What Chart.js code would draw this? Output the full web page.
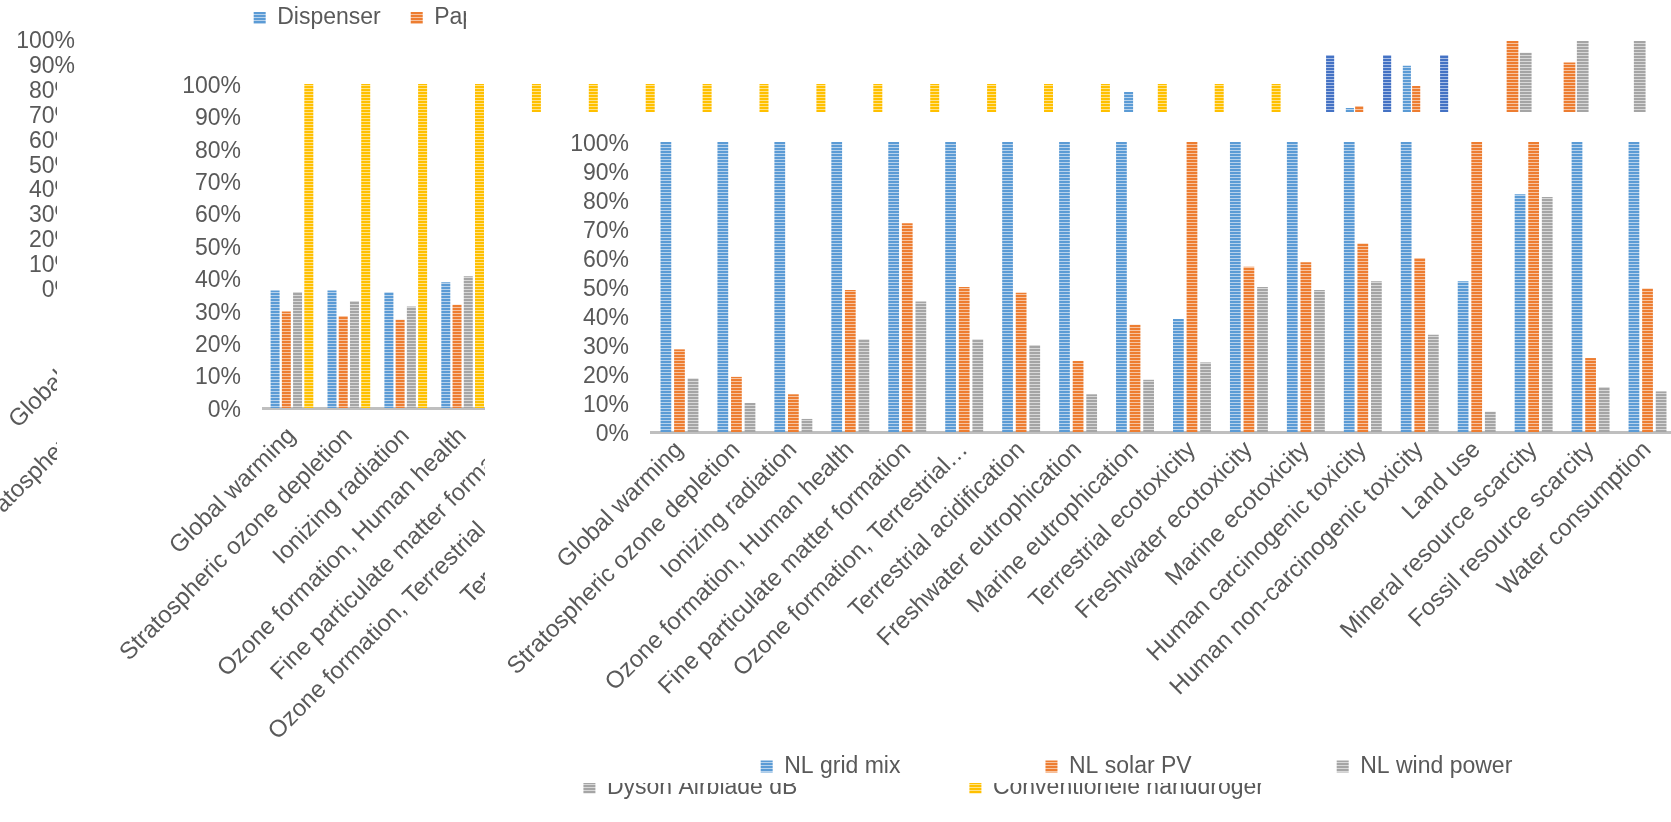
<!DOCTYPE html>
<html lang="en">
<head>
<meta charset="utf-8">
<title>Relative impact per category</title>
<script src="https://cdn.jsdelivr.net/npm/chart.js@4.4.1/dist/chart.umd.min.js"></script>
<style>
  html, body { margin: 0; padding: 0; background: #ffffff; }
  body { position: relative; width: 1671px; height: 822px; overflow: hidden; }
  .panel { position: absolute; }
  .panel canvas { display: block; }
  .blank { position: absolute; background: #ffffff; }
</style>
</head>
<body>
<div class="panel" style="left:0;top:-30px;z-index:1"><canvas id="handDryerOverview" width="1671" height="852"></canvas></div>
<div class="blank" style="left:466px;top:0;width:839px;height:75px;z-index:2"></div>
<div class="panel" style="left:1283px;top:41px;z-index:3"><canvas id="fiveSeriesStrip" width="171" height="249"></canvas></div>
<div class="panel" style="left:1484px;top:41px;z-index:3"><canvas id="energyStrip" width="171" height="249"></canvas></div>
<div class="panel" style="left:57px;top:5px;z-index:4"><canvas id="handDryerChart" width="1379" height="804"></canvas></div>
<div class="panel" style="left:485px;top:112px;z-index:5"><canvas id="electricityChart" width="1191" height="676"></canvas></div>
<script>
// ReCiPe midpoint impact categories
const impactCategories = [
  'Global warming', 'Stratospheric ozone depletion', 'Ionizing radiation',
  'Ozone formation, Human health', 'Fine particulate matter formation',
  'Ozone formation, Terrestrial ecosystems', 'Terrestrial acidification',
  'Freshwater eutrophication', 'Marine eutrophication', 'Terrestrial ecotoxicity',
  'Freshwater ecotoxicity', 'Marine ecotoxicity', 'Human carcinogenic toxicity',
  'Human non-carcinogenic toxicity', 'Land use', 'Mineral resource scarcity',
  'Fossil resource scarcity', 'Water consumption'
];
const percentTickLabels = ['0%', '10%', '20%', '30%', '40%', '50%', '60%', '70%', '80%', '90%', '100%'];

// Electricity sources, % of the highest score in each category
const nlGridMix   = [100, 100, 100, 100, 100, 100, 100, 100, 100, 39, 100, 100, 100, 100, 52, 82, 100, 100];
const nlSolarPV   = [28.5, 19, 13, 49, 72, 50, 48, 24.5, 37, 100, 57, 58.5, 65, 60, 100, 100, 25.5, 49.5];
const nlWindPower = [18.5, 10, 4.5, 32, 45, 32, 30, 13, 18, 24, 50, 49, 52, 33.5, 7, 81, 15.5, 14];

// Hand drying options, % of the highest score in each category
const dispenser         = [36.3, 36.3, 35.7, 38.8, null, null, null, null, null, null, null, null, null, null, null, 97.5, null, null];
const paperTowel        = [29.8, 28.4, 27.2, 31.9];
const dysonAirblade     = [35.8, 33.0, 31.3, 40.7];
const conventionalDryer = [100, 100, 100, 100, 100, 100, 100, 100, 100, 100, 100, 100, 100, 100, 100, 100, 100, 100];

// Narrow strips of two further panels (upper right)
const stripCategories = ['Mineral resource scarcity', 'Fossil resource scarcity', 'Water consumption'];
const stripLightBlue  = [null, 73.1, 90.1];
const stripOrange     = [null, 73.9, 81.9];
const stripDarkBlue   = [94.4, 94.4, 94.4];
const stripSolar      = [100, 91.4, null];
const stripWind       = [95.3, 100, 100];

Chart.defaults.font.family = '"Liberation Sans", Arial, Helvetica, sans-serif';
Chart.defaults.color = '#595959';

// Excel-like narrow horizontal stripe fill
function stripes(base, light) {
  const tile = document.createElement('canvas');
  tile.width = 4; tile.height = 3;
  const g = tile.getContext('2d');
  g.fillStyle = base; g.fillRect(0, 0, 4, 3);
  g.fillStyle = light; g.fillRect(0, 2, 4, 1);
  return g.createPattern(tile, 'repeat');
}
const fill = {
  blue:   stripes('#5B9BD5', '#B7D2EC'),
  orange: stripes('#ED7D31', '#F7C4A1'),
  gray:   stripes('#A5A5A5', '#D8D8D8'),
  yellow: stripes('#FFC000', '#FFE38A'),
  navy:   stripes('#4472C4', '#A9BEE6')
};

// white panel behind a chart, limited to the panel's own rectangle
function paperBackground(x, y, width, height) {
  return {
    id: 'paperBackground',
    beforeDraw(chart) {
      const ctx = chart.ctx;
      ctx.save();
      ctx.fillStyle = '#ffffff';
      ctx.fillRect(x, y, width, height);
      ctx.restore();
    }
  };
}

function shortLabel(text) {
  if (text.length <= 34) return text;
  const cut = text.slice(0, 34);
  return cut.slice(0, cut.lastIndexOf(' ')) + '\u2026';
}

// tick labels may run outside the axis box
function unclipLabels(scale) {
  scale._computeLabelArea = () => undefined;
}

function valueAxis(width, padding, topPad) {
  return {
    min: 0, max: 100,
    grid: { display: false, drawTicks: false },
    border: { display: false },
    ticks: {
      stepSize: 10, autoSkip: false, padding: padding, labelOffset: 2.5,
      color: '#595959', font: { size: 23 },
      callback: (v, i) => percentTickLabels[i]
    },
    afterFit(scale) {
      scale.width = width; scale.paddingTop = topPad || 0; scale.paddingBottom = 0;
      unclipLabels(scale);
    }
  };
}

function categoryAxis(height, padding, rightPad, formatter) {
  return {
    grid: { display: false, drawTicks: false },
    border: { display: true, color: '#BFBFBF', width: 3 },
    ticks: {
      autoSkip: false, minRotation: 45, maxRotation: 45, padding: padding,
      color: '#595959', font: { size: 24 },
      callback: formatter || function (value) { return this.getLabelForValue(value); }
    },
    afterFit(scale) {
      scale.height = height; scale.paddingLeft = 0; scale.paddingRight = rightPad || 0;
      unclipLabels(scale);
    }
  };
}

const common = { responsive: false, animation: false, devicePixelRatio: 1, events: [] };

// Back panel: hand drying options, legend on top
new Chart(document.getElementById('handDryerOverview'), {
  type: 'bar',
  data: {
    labels: impactCategories,
    datasets: [
      { label: 'Dispenser', data: [], backgroundColor: fill.blue },
      { label: 'Papieren handdoek', data: [], backgroundColor: fill.orange },
      { label: 'Dyson Airblade dB', data: [], backgroundColor: fill.gray },
      { label: 'Conventionele handdroger', data: [], backgroundColor: fill.yellow }
    ]
  },
  options: Object.assign({}, common, {
    layout: { padding: { left: 0, top: 0, right: 311, bottom: 0 } },
    scales: { x: categoryAxis(534, 8, 0), y: valueAxis(96, 21, 69.4) },
    plugins: {
      tooltip: { enabled: false },
      legend: {
        position: 'top', fullSize: false,
        labels: { boxWidth: 12, boxHeight: 12, padding: 30, color: '#595959', font: { size: 23 } }
      }
    }
  }),
  plugins: [paperBackground(0, 0, 1671, 852)]
});

// Strip of a five-series panel
new Chart(document.getElementById('fiveSeriesStrip'), {
  type: 'bar',
  data: {
    labels: stripCategories,
    datasets: [
      { label: 'Reeks 1', data: stripLightBlue, backgroundColor: fill.blue },
      { label: 'Reeks 2', data: stripOrange, backgroundColor: fill.orange },
      { label: 'Reeks 3', data: [], backgroundColor: fill.gray },
      { label: 'Reeks 4', data: [], backgroundColor: fill.yellow },
      { label: 'Reeks 5', data: stripDarkBlue, backgroundColor: fill.navy }
    ]
  },
  options: Object.assign({}, common, {
    datasets: { bar: { categoryPercentage: 0.817, barPercentage: 0.87, borderWidth: 0 } },
    layout: { padding: 0 },
    scales: { x: { display: false }, y: { display: false, min: 0, max: 100 } },
    plugins: { tooltip: { enabled: false }, legend: { display: false } }
  })
});

// Strip of an electricity-source panel
new Chart(document.getElementById('energyStrip'), {
  type: 'bar',
  data: {
    labels: stripCategories,
    datasets: [
      { label: 'NL grid mix', data: [], backgroundColor: fill.blue },
      { label: 'NL solar PV', data: stripSolar, backgroundColor: fill.orange },
      { label: 'NL wind power', data: stripWind, backgroundColor: fill.gray }
    ]
  },
  options: Object.assign({}, common, {
    datasets: { bar: { categoryPercentage: 0.696, barPercentage: 0.886, borderWidth: 0 } },
    layout: { padding: 0 },
    scales: { x: { display: false }, y: { display: false, min: 0, max: 100 } },
    plugins: { tooltip: { enabled: false }, legend: { display: false } }
  })
});

// Middle panel: hand drying options
new Chart(document.getElementById('handDryerChart'), {
  type: 'bar',
  data: {
    labels: impactCategories,
    datasets: [
      { label: 'Dispenser', data: dispenser, backgroundColor: fill.blue },
      { label: 'Papieren handdoek', data: paperTowel, backgroundColor: fill.orange },
      { label: 'Dyson Airblade dB', data: dysonAirblade, backgroundColor: fill.gray },
      { label: 'Conventionele handdroger', data: conventionalDryer, backgroundColor: fill.yellow }
    ]
  },
  options: Object.assign({}, common, {
    datasets: { bar: { categoryPercentage: 0.79, barPercentage: 0.8, borderWidth: 0 } },
    layout: { padding: { left: 170, top: 0, right: 0, bottom: 0 } },
    scales: { x: categoryAxis(1, 14, 148.3), y: valueAxis(36.5, 22.5, 79) },
    plugins: {
      tooltip: { enabled: false },
      legend: {
        position: 'bottom', align: 'end',
        labels: { boxWidth: 12, boxHeight: 12, padding: 172, color: '#595959', font: { size: 23 } }
      }
    }
  }),
  plugins: [paperBackground(0, 70, 1248, 734)]
});

// Front panel: electricity sources
new Chart(document.getElementById('electricityChart'), {
  type: 'bar',
  data: {
    labels: impactCategories,
    datasets: [
      { label: 'NL grid mix', data: nlGridMix, backgroundColor: fill.blue },
      { label: 'NL solar PV', data: nlSolarPV, backgroundColor: fill.orange },
      { label: 'NL wind power', data: nlWindPower, backgroundColor: fill.gray }
    ]
  },
  options: Object.assign({}, common, {
    datasets: { bar: { categoryPercentage: 0.716, barPercentage: 0.79, borderWidth: 0 } },
    layout: { padding: { left: 112, top: 30, right: 0, bottom: 0 } },
    scales: {
      x: categoryAxis(178, 4, 0, function (value) { return shortLabel(this.getLabelForValue(value)); }),
      y: valueAxis(54, 22, 0)
    },
    plugins: {
      tooltip: { enabled: false },
      legend: {
        position: 'bottom',
        labels: { boxWidth: 12, boxHeight: 12, padding: 145, color: '#595959', font: { size: 23 } }
      }
    }
  }),
  plugins: [paperBackground(0, 0, 1191, 671)]
});
</script>
</body>
</html>
